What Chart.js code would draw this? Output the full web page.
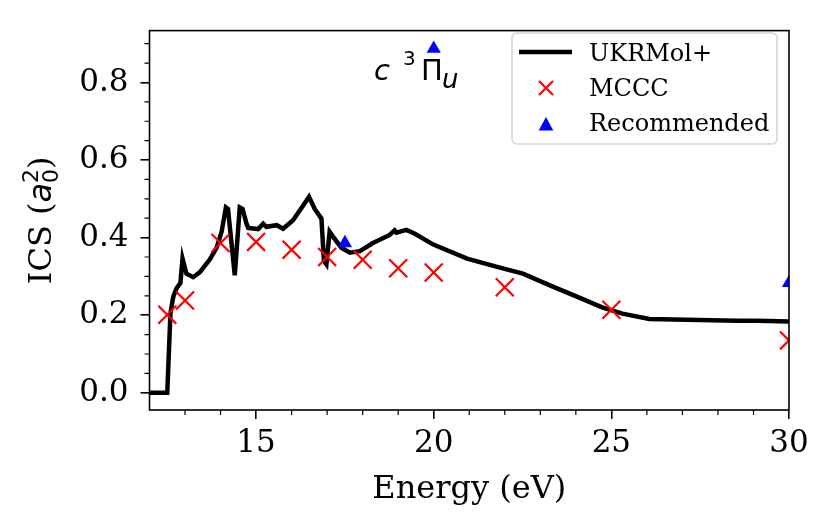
<!DOCTYPE html>
<html>
<head>
<meta charset="utf-8">
<script src="https://cdn.jsdelivr.net/npm/chart.js@4/dist/chart.umd.min.js"></script>
<style>
  html, body { margin: 0; padding: 0; background: #fff; }
  #grafico { display: block; }
</style>
</head>
<body>
<canvas id="grafico" width="831" height="529"></canvas>
<script>
// ===============================
// DADOS
// ===============================
const energiaUkr = [12.0, 12.5, 12.59, 12.67, 12.76, 12.87, 12.93, 13.04, 13.23, 13.42, 13.70, 13.89, 14.03, 14.15, 14.21, 14.40, 14.54, 14.62, 14.73, 14.78, 15.06, 15.20, 15.29, 15.58, 15.76, 16.04, 16.32, 16.49, 16.65, 16.84, 16.91, 16.98, 17.07, 17.17, 17.40, 17.64, 17.92, 18.29, 18.76, 18.90, 18.95, 19.23, 19.47, 19.99, 20.94, 21.89, 22.51, 23.32, 24.08, 24.74, 25.31, 26.07, 27.11, 28.54, 29.11, 30.0];
const icsUkr = [0, 0, 0.206, 0.248, 0.269, 0.283, 0.346, 0.307, 0.298, 0.311, 0.344, 0.374, 0.415, 0.478, 0.474, 0.303, 0.478, 0.474, 0.436, 0.425, 0.422, 0.436, 0.428, 0.432, 0.423, 0.445, 0.482, 0.505, 0.474, 0.449, 0.340, 0.331, 0.415, 0.402, 0.374, 0.361, 0.365, 0.386, 0.407, 0.419, 0.413, 0.420, 0.410, 0.382, 0.346, 0.322, 0.307, 0.275, 0.246, 0.220, 0.204, 0.190, 0.188, 0.186, 0.186, 0.184];

const energiaMccc = [12.5, 13, 14, 15, 16, 17, 18, 19, 20, 22, 25, 30];
const icsMccc = [0.201, 0.238, 0.386, 0.389, 0.369, 0.350, 0.343, 0.321, 0.310, 0.272, 0.214, 0.135];

const energiaRec = [17.5, 20, 30];
const icsRec = [0.386, 0.887, 0.283];

const xTicksMaiores = [15, 20, 25, 30];
const xTicksMenores = [13, 14, 16, 17, 18, 19, 21, 22, 23, 24, 26, 27, 28, 29];
const yTicksMaiores = [0, 0.2, 0.4, 0.6, 0.8];
const yTicksMenores = [0.05, 0.1, 0.15, 0.25, 0.3, 0.35, 0.45, 0.5, 0.55, 0.65, 0.7, 0.75, 0.85, 0.9];

const legendaTextos = ['UKRMol+', 'MCCC', 'Recommended'];

const pares = (xs, ys) => xs.map((x, i) => ({ x, y: ys[i] }));

const SERIF = "'DejaVu Serif', serif";
const SANS = "'DejaVu Sans', sans-serif";

// ===============================
// PLUGINS (moldura, ticks menores, rótulos, legenda)
// ===============================
const molduraPlugin = {
  id: 'moldura',
  afterDatasetsDraw(chart) {
    const { ctx, chartArea: a, scales } = chart;
    ctx.save();
    ctx.strokeStyle = '#000';
    ctx.lineWidth = 1.6;
    ctx.strokeRect(a.left, a.top, a.right - a.left, a.bottom - a.top);

    // ticks menores
    ctx.lineWidth = 1.2;
    ctx.beginPath();
    xTicksMenores.forEach(v => {
      const px = scales.x.getPixelForValue(v);
      ctx.moveTo(px, a.bottom);
      ctx.lineTo(px, a.bottom + 5);
    });
    yTicksMenores.forEach(v => {
      const py = scales.y.getPixelForValue(v);
      ctx.moveTo(a.left, py);
      ctx.lineTo(a.left - 5, py);
    });
    ctx.stroke();
    ctx.restore();
  }
};

const rotulosPlugin = {
  id: 'rotulos',
  afterDraw(chart) {
    const { ctx, chartArea: a } = chart;
    ctx.save();
    ctx.fillStyle = '#000';
    ctx.textBaseline = 'alphabetic';

    // rótulo do eixo y: ICS (a_0^2)
    const partes = [
      { t: 'ICS (', f: `32px ${SERIF}`, dy: 0 },
      { t: 'a', f: `italic 32px ${SANS}`, dy: 0 },
      { t: '0', f: `22px ${SANS}`, dy: 7, sub: true },
      { t: '2', f: `22px ${SANS}`, dy: -13, sup: true },
      { t: ')', f: `32px ${SERIF}`, dy: 0 }
    ];
    let total = 0;
    const larguras = partes.map(p => { ctx.font = p.f; return ctx.measureText(p.t).width; });
    partes.forEach((p, i) => { if (!p.sup) total += larguras[i]; });
    ctx.translate(51, (a.top + a.bottom) / 2);
    ctx.rotate(-Math.PI / 2);
    let x = -total / 2;
    let xSub = 0;
    partes.forEach((p, i) => {
      ctx.font = p.f;
      if (p.sup) {
        ctx.fillText(p.t, xSub, p.dy);
        return;
      }
      if (p.sub) xSub = x;
      ctx.fillText(p.t, x, p.dy);
      x += larguras[i];
    });
    ctx.setTransform(1, 0, 0, 1, 0, 0);

    // título: c ^3Π_u
    ctx.font = `italic 29px ${SANS}`;
    ctx.fillText('c', 374, 80);
    ctx.font = `20px ${SANS}`;
    ctx.fillText('3', 403, 65);
    ctx.font = `29px ${SANS}`;
    ctx.fillText('\u03A0', 421, 80);
    ctx.font = `italic 26px ${SANS}`;
    ctx.fillText('u', 442, 88);

    // legenda
    const bx = 512, by = 33, bw = 265, bh = 111, r = 5;
    ctx.beginPath();
    ctx.moveTo(bx + r, by);
    ctx.arcTo(bx + bw, by, bx + bw, by + bh, r);
    ctx.arcTo(bx + bw, by + bh, bx, by + bh, r);
    ctx.arcTo(bx, by + bh, bx, by, r);
    ctx.arcTo(bx, by, bx + bw, by, r);
    ctx.closePath();
    ctx.fillStyle = 'rgba(255,255,255,0.8)';
    ctx.fill();
    ctx.strokeStyle = '#d6d6d6';
    ctx.lineWidth = 1.6;
    ctx.stroke();

    ctx.strokeStyle = '#000';
    ctx.lineWidth = 4.5;
    ctx.beginPath();
    ctx.moveTo(519, 52);
    ctx.lineTo(572, 52);
    ctx.stroke();

    ctx.strokeStyle = '#ff0000';
    ctx.lineWidth = 2.2;
    ctx.beginPath();
    ctx.moveTo(539, 81); ctx.lineTo(553, 95);
    ctx.moveTo(553, 81); ctx.lineTo(539, 95);
    ctx.stroke();

    ctx.fillStyle = '#0000ff';
    ctx.beginPath();
    ctx.moveTo(546, 117);
    ctx.lineTo(553.3, 130.5);
    ctx.lineTo(538.7, 130.5);
    ctx.closePath();
    ctx.fill();

    ctx.fillStyle = '#000';
    ctx.font = `24px ${SERIF}`;
    ctx.fillText(legendaTextos[0], 589, 61);
    ctx.fillText(legendaTextos[1], 589, 96);
    ctx.fillText(legendaTextos[2], 589, 131);
    ctx.restore();
  }
};

// ===============================
// GRÁFICO
// ===============================
new Chart(document.getElementById('grafico'), {
  type: 'scatter',
  data: {
    datasets: [
      {
        label: legendaTextos[0],
        data: pares(energiaUkr, icsUkr),
        showLine: true,
        borderColor: '#000',
        borderWidth: 4.5,
        pointRadius: 0,
        tension: 0,
        order: 3,
        clip: 0
      },
      {
        label: legendaTextos[1],
        data: pares(energiaMccc, icsMccc),
        pointStyle: 'crossRot',
        pointRadius: 12.7,
        borderColor: '#ff0000',
        borderWidth: 2.2,
        order: 2,
        clip: 0
      },
      {
        label: legendaTextos[2],
        data: pares(energiaRec, icsRec),
        pointStyle: 'triangle',
        pointRadius: 8.2,
        backgroundColor: '#0000ff',
        borderColor: '#0000ff',
        borderWidth: 0,
        order: 1,
        clip: 0
      }
    ]
  },
  options: {
    responsive: false,
    animation: false,
    devicePixelRatio: 1,
    layout: { padding: { top: 20, right: 42, bottom: 0, left: 0 } },
    plugins: { legend: { display: false }, tooltip: { enabled: false } },
    scales: {
      x: {
        type: 'linear',
        min: 12,
        max: 30,
        afterBuildTicks: s => { s.ticks = xTicksMaiores.map(v => ({ value: v })); },
        afterFit: s => { s.height = 119; },
        border: { display: false },
        grid: { drawOnChartArea: false, drawTicks: true, tickLength: 9, color: '#000', lineWidth: 1.6 },
        ticks: { color: '#000', font: { family: SERIF, size: 31 }, padding: 6, maxRotation: 0 },
        title: { display: true, text: 'Energy (eV)', color: '#000', font: { family: SERIF, size: 32 }, padding: { top: 0, bottom: 20 } }
      },
      y: {
        type: 'linear',
        min: -0.0444,
        max: 0.9337,
        afterBuildTicks: s => { s.ticks = yTicksMaiores.map(v => ({ value: v })); },
        afterFit: s => { s.width = 149.5; },
        border: { display: false },
        grid: { drawOnChartArea: false, drawTicks: true, tickLength: 9, color: '#000', lineWidth: 1.6 },
        ticks: { color: '#000', font: { family: SERIF, size: 31 }, padding: 12, callback: v => Number(v).toFixed(1) }
      }
    }
  },
  plugins: [molduraPlugin, rotulosPlugin]
});
</script>
</body>
</html>
